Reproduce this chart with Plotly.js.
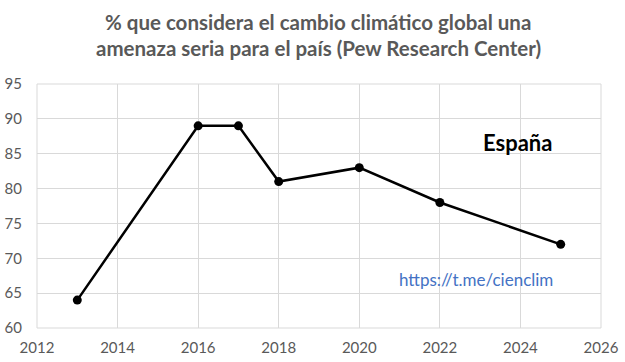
<!DOCTYPE html>
<html>
<head>
<meta charset="utf-8">
<script src="https://cdn.plot.ly/plotly-3.0.1.min.js"></script>
<style>html,body{margin:0;padding:0;background:#fff;}#chart{width:625px;height:362px;}</style>
</head>
<body>
<div id="chart"></div>
<script>
const years = [2013, 2016, 2017, 2018, 2020, 2022, 2025];
const pct = [64, 89, 89, 81, 83, 78, 72];
const xTicks = [2012, 2014, 2016, 2018, 2020, 2022, 2024, 2026];
const yTicks = [60, 65, 70, 75, 80, 85, 90, 95];
const titleLines = ['% que considera el cambio climático global una', 'amenaza seria para el país (Pew Research Center)'];

const font = "Lato, 'Open Sans', sans-serif";
const plotH = 362 - 84 - 34;
const trace = {
  x: years, y: pct, type: 'scatter', mode: 'lines+markers',
  line: {color: '#000000', width: 2.5},
  marker: {color: '#000000', size: 9},
  hoverinfo: 'skip'
};
const layout = {
  width: 625, height: 362,
  margin: {l: 37, r: 24, t: 84, b: 34},
  paper_bgcolor: '#ffffff', plot_bgcolor: '#ffffff',
  showlegend: false,
  xaxis: {
    range: [2012, 2026], tickvals: xTicks, ticktext: xTicks.map(String),
    showgrid: true, gridcolor: '#d9d9d9', gridwidth: 1,
    zeroline: false, showline: false, ticks: 'outside', ticklen: 6, tickcolor: 'rgba(0,0,0,0)',
    tickfont: {family: font, size: 15, color: '#595959'},
    fixedrange: true
  },
  yaxis: {
    range: [60, 95], tickvals: yTicks, ticktext: yTicks.map(String),
    showgrid: true, gridcolor: '#d9d9d9', gridwidth: 1,
    zeroline: false, showline: false, ticks: 'outside', ticklen: 11, tickcolor: 'rgba(0,0,0,0)',
    tickfont: {family: font, size: 15, color: '#595959'},
    fixedrange: true
  },
  shapes: [
    {type: 'rect', xref: 'paper', yref: 'paper', x0: 0, x1: 1, y0: 0, y1: 1, line: {color: '#d9d9d9', width: 1}}
  ],
  annotations: [
    {text: '<b>' + titleLines[0] + '</b>', xref: 'paper', yref: 'paper', x: (318 - 37) / 564, xanchor: 'center',
     y: (328 - 22) / plotH, yanchor: 'middle', showarrow: false,
     font: {family: font, size: 20.5, color: '#595959'}},
    {text: '<b>' + titleLines[1] + '</b>', xref: 'paper', yref: 'paper', x: (318 - 37) / 564, xanchor: 'center',
     y: (328 - 48) / plotH, yanchor: 'middle', showarrow: false,
     font: {family: font, size: 20.5, color: '#595959'}},
    {text: '<b>España</b>', xref: 'paper', yref: 'paper', x: (517 - 37) / 564, y: (328 - 142) / plotH, xanchor: 'center', yanchor: 'middle',
     showarrow: false, font: {family: font, size: 22, color: '#000000'}},
    {text: 'https://t.me/cienclim', xref: 'paper', yref: 'paper', x: (476 - 37) / 564, y: (328 - 279) / plotH, xanchor: 'center', yanchor: 'middle',
     showarrow: false, font: {family: font, size: 17, color: '#4472c4'}}
  ]
};
Plotly.newPlot('chart', [trace], layout, {displayModeBar: false, staticPlot: true});
</script>
</body>
</html>
